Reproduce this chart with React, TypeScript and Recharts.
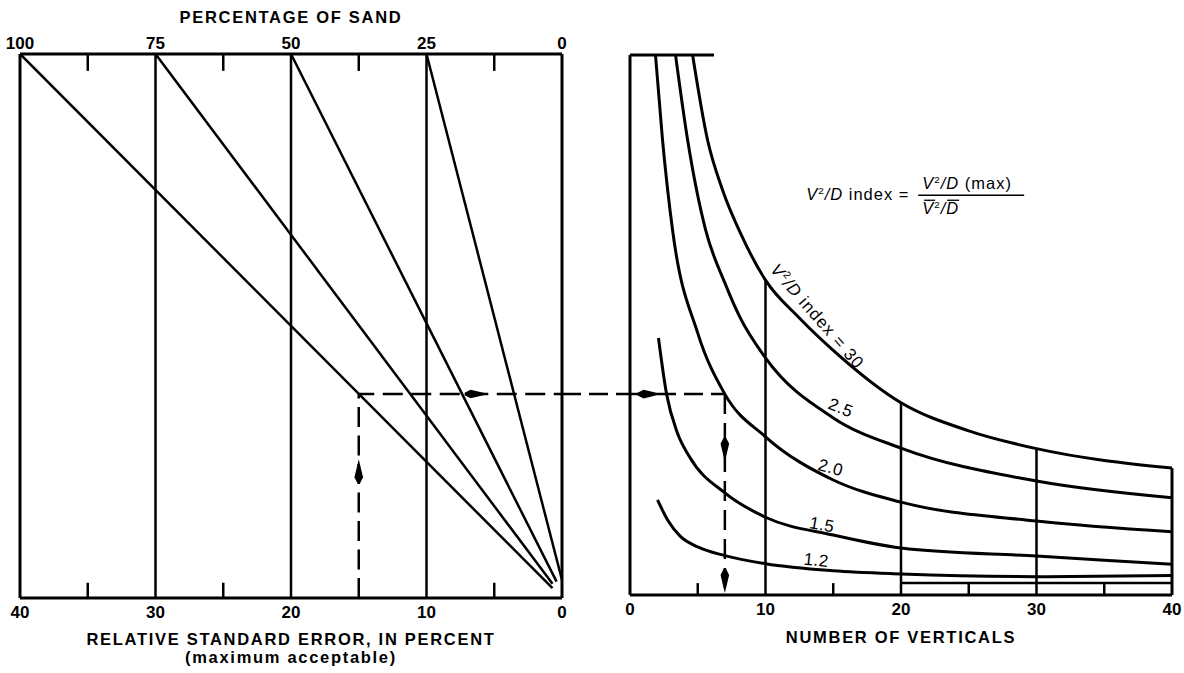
import React from "react";
import {
  ComposedChart,
  Line,
  XAxis,
  YAxis,
  ReferenceLine,
  ReferenceDot,
  Label,
} from "recharts";

const FONT = "'Liberation Sans', Arial, Helvetica, sans-serif";
const INK = "#000";

// ---- left panel: relative standard error (bottom) vs percentage of sand (top)
const errorTicks = [0, 10, 20, 30, 40];
const errorMinorTicks = [5, 25, 35];
const errorGridLines = [30, 20, 10];
const sandTicks = [0, 25, 50, 75, 100];
const sandMinorTicks = [12.5, 37.5, 62.5, 87.5];
const sandLines = [100, 75, 50, 25];
// every sand line runs down into the lower right corner (in sand units)
const sandLineEnd = [1.75, 1.75, 1.0, 0];
const sandLineEndLevel = [1.8, 2.6, 3.0, 3.3];

// worked example: 15 % error, 100 % sand -> 7 verticals on the 2.0 curve
const exampleError = 15;
const exampleLevelLeft = 37.5;
const exampleLevelRight = 37.2;
const exampleVerticals = 7;
const gapEndError = -5.0; // dashed line carries on across the gap

// arrow heads along the example path (x, level, direction in degrees)
const leftArrowX = [15, 6.3];
const leftArrowY = [23.3, 37.5];
const leftArrowDir = [-90, 0];
const rightArrowX = [1.45, 7, 7];
const rightArrowY = [37.2, 26.9, 2.6];
const rightArrowDir = [0, 90, 90];

// ---- right panel: number of verticals for each V2/D index
const verticalTicks = [0, 10, 20, 30, 40];
const verticalMinorTicks = [5, 15, 25, 35];
const verticalMinorTickTop = [2.2, 2.2, 2.2, 2.2];
const gridVerticals = [10, 20, 30, 40];
const gridVerticalTop = [58.3, 35.6, 27.1, 23.5];
const topLineEnd = 6.2;
const stripLevel = 2.2;
const stripFrom = 20;

const curve30 = [[4.62, 100], [5.72, 84.3], [6.83, 75.0], [8.23, 66.6], [10, 58.3], [12.5, 51.3], [15, 45.3], [20, 35.6], [25, 30.4], [30, 27.1], [40, 23.5]];
const curve25 = [[3.36, 100], [4.25, 84.3], [5.58, 67.6], [7, 57.8], [8.1, 51.5], [10, 43.9], [15, 32.8], [20, 27.2], [30, 21.1], [40, 18.0]];
const curve20 = [[1.88, 100], [2.4, 84.3], [3.14, 67.6], [5, 48.5], [7, 37.2], [10, 29.3], [15, 21.3], [20, 17.2], [30, 13.7], [40, 11.7]];
const curve15 = [[2.1, 47.6], [2.7, 37.2], [3.5, 30.0], [4.39, 25.6], [7, 18.9], [10, 14.4], [15, 11.1], [20, 8.7], [30, 7.2], [40, 5.7]];
const curve12 = [[2.03, 17.6], [2.8, 13.8], [3.7, 10.9], [5, 8.9], [7, 7.3], [10, 5.8], [15, 4.5], [20, 3.9], [30, 3.4], [40, 3.6]];
const curves = [curve30, curve25, curve20, curve15, curve12];

// where the index values are written along the curves
const indexLabels = ["30", "2.5", "2.0", "1.5", "1.2"];
const indexLabelX = [13.5, 15.4, 14.7, 14.1, 13.7];
const indexLabelY = [50.9, 33.7, 22.6, 12.0, 5.4];
const indexLabelAngle = [49, 22, 15, 10, 6];

const toPoints = (pairs: number[][]) => pairs.map(([x, y]) => ({ x, y }));

const tickStyle = { fill: INK, fontSize: 17, fontWeight: 700, fontFamily: FONT };
const titleStyle = {
  fill: INK,
  fontSize: 16.5,
  fontWeight: 700,
  fontFamily: FONT,
  letterSpacing: 1.7,
};
const frame = { stroke: INK, strokeWidth: 3 };
const thin = { stroke: INK, strokeWidth: 2.5 };
const dashed = { stroke: INK, strokeWidth: 2.5, strokeDasharray: "19 8" };

const arrowHead = (dir: number) => (p: any) => (
  <polygon
    points="-12,-1.3 -6,-4.3 12,0 -6,4.3 -12,1.3"
    transform={`translate(${p.cx},${p.cy}) rotate(${dir})`}
    fill={INK}
  />
);

const v2d = (fs: number) => [
  <tspan key="v" fontStyle="italic">V</tspan>,
  <tspan key="2" fontSize={fs * 0.6} dy={-fs * 0.4}>2</tspan>,
  <tspan key="d" fontStyle="italic" dy={fs * 0.4}>/D</tspan>,
];

const curveLabel = (i: number) => (p: any) => (
  <text
    x={p.cx}
    y={p.cy}
    transform={`rotate(${indexLabelAngle[i]} ${p.cx} ${p.cy})`}
    textAnchor="middle"
    fontFamily={FONT}
    fontSize={17}
    letterSpacing={i === 0 ? 1 : 0.5}
    fill={INK}
  >
    {i === 0 ? v2d(17) : null}
    {i === 0 ? " index = " + indexLabels[i] : indexLabels[i]}
  </text>
);

const formula = (p: any) => {
  const { cx, cy } = p;
  return (
    <g fontFamily={FONT} fontSize={16.5} fill={INK} letterSpacing={1}>
      <text x={cx} y={cy}>
        {v2d(16.5)}
        {" index ="}
      </text>
      <text x={cx + 116} y={cy - 11}>
        {v2d(16.5)}
        {" (max)"}
      </text>
      <line x1={cx + 112} x2={cx + 218} y1={cy - 5} y2={cy - 5} stroke={INK} strokeWidth={1.5} />
      <text x={cx + 116} y={cy + 14}>{v2d(16.5)}</text>
      <line x1={cx + 118} x2={cx + 129} y1={cy} y2={cy} stroke={INK} strokeWidth={1.3} />
      <line x1={cx + 141} x2={cx + 153} y1={cy} y2={cy} stroke={INK} strokeWidth={1.3} />
    </g>
  );
};

function LeftPanel() {
  return (
    <ComposedChart width={640} height={673} margin={{ top: 0, right: 78, bottom: 0, left: 20 }}>
      <XAxis
        xAxisId="sand"
        dataKey="x"
        orientation="top"
        type="number"
        domain={[0, 100]}
        allowDataOverflow
        reversed
        ticks={sandTicks}
        interval={0}
        height={54}
        tickLine={false}
        tickSize={2}
        tickMargin={3}
        axisLine={frame}
        tick={tickStyle}
      >
        <Label value="PERCENTAGE OF SAND" position="insideTop" offset={11} {...titleStyle} />
      </XAxis>
      <XAxis
        xAxisId="err"
        dataKey="x"
        type="number"
        domain={[0, 40]}
        allowDataOverflow
        reversed
        ticks={errorTicks}
        interval={0}
        height={75}
        tickLine={false}
        axisLine={frame}
        tick={tickStyle}
      >
        <Label value="RELATIVE STANDARD ERROR, IN PERCENT" position="insideBottom" offset={28} {...titleStyle} />
        <Label value="(maximum acceptable)" position="insideBottom" offset={10} {...titleStyle} />
      </XAxis>
      <YAxis type="number" domain={[0, 100]} hide />

      <ReferenceLine xAxisId="err" x={40} {...frame} />
      <ReferenceLine xAxisId="err" x={0} {...frame} />
      {errorGridLines.map((e) => (
        <ReferenceLine key={e} xAxisId="err" x={e} {...thin} />
      ))}
      {sandMinorTicks.map((s) => (
        <ReferenceLine
          key={s}
          xAxisId="sand"
          segment={[{ x: s, y: 100 }, { x: s, y: 96.9 }]}
          {...thin}
        />
      ))}
      {errorMinorTicks.map((e) => (
        <ReferenceLine key={e} xAxisId="err" segment={[{ x: e, y: 0 }, { x: e, y: 2.8 }]} {...thin} />
      ))}

      {sandLines.map((s, i) => (
        <Line
          key={s}
          xAxisId="sand"
          data={[
            { x: s, y: 100 },
            { x: sandLineEnd[i], y: sandLineEndLevel[i] },
          ]}
          dataKey="y"
          type="linear"
          dot={false}
          stroke={INK}
          strokeWidth={2.5}
          isAnimationActive={false}
        />
      ))}

      <Line
        xAxisId="err"
        data={[
          { x: exampleError, y: 0 },
          { x: exampleError, y: exampleLevelLeft },
          { x: 0, y: exampleLevelLeft },
        ]}
        dataKey="y"
        type="linear"
        dot={false}
        stroke={INK}
        strokeWidth={2.5}
        strokeDasharray="20 8.5"
        isAnimationActive={false}
      />
      <ReferenceLine
        xAxisId="err"
        ifOverflow="visible"
        segment={[{ x: 0, y: exampleLevelLeft }, { x: gapEndError, y: exampleLevelLeft }]}
        {...dashed}
      />
      {leftArrowX.map((x, i) => (
        <ReferenceDot key={i} xAxisId="err" x={x} y={leftArrowY[i]} r={1} shape={arrowHead(leftArrowDir[i])} />
      ))}
    </ComposedChart>
  );
}

function RightPanel() {
  return (
    <ComposedChart width={624} height={673} margin={{ top: 55, right: 12, bottom: 0, left: 70 }}>
      <XAxis
        xAxisId="v"
        dataKey="x"
        type="number"
        domain={[0, 40]}
        ticks={verticalTicks}
        interval={0}
        height={78}
        tickLine={false}
        axisLine={frame}
        tick={tickStyle}
      >
        <Label value="NUMBER OF VERTICALS" position="insideBottom" offset={30} {...titleStyle} />
      </XAxis>
      <YAxis type="number" domain={[0, 100]} hide />

      <ReferenceLine xAxisId="v" x={0} {...frame} />
      <ReferenceLine xAxisId="v" segment={[{ x: 0, y: 100 }, { x: topLineEnd, y: 100 }]} {...frame} />
      {gridVerticals.map((v, i) => (
        <ReferenceLine
          key={v}
          xAxisId="v"
          segment={[{ x: v, y: 0 }, { x: v, y: gridVerticalTop[i] }]}
          {...(v === 40 ? frame : thin)}
        />
      ))}
      {verticalMinorTicks.map((v, i) => (
        <ReferenceLine
          key={v}
          xAxisId="v"
          segment={[{ x: v, y: 0 }, { x: v, y: verticalMinorTickTop[i] }]}
          {...thin}
        />
      ))}
      <ReferenceLine
        xAxisId="v"
        segment={[{ x: stripFrom, y: stripLevel }, { x: 40, y: stripLevel }]}
        {...thin}
      />

      {curves.map((c, i) => (
        <Line
          key={indexLabels[i]}
          xAxisId="v"
          data={toPoints(c)}
          dataKey="y"
          type="monotone"
          dot={false}
          stroke={INK}
          strokeWidth={3}
          isAnimationActive={false}
        />
      ))}

      <ReferenceLine
        xAxisId="v"
        segment={[{ x: 0, y: exampleLevelRight }, { x: exampleVerticals, y: exampleLevelRight }]}
        {...dashed}
      />
      <ReferenceLine
        xAxisId="v"
        segment={[{ x: exampleVerticals, y: exampleLevelRight }, { x: exampleVerticals, y: 0 }]}
        {...dashed}
        strokeDasharray="20 9"
      />
      {rightArrowX.map((x, i) => (
        <ReferenceDot key={i} xAxisId="v" x={x} y={rightArrowY[i]} r={1} shape={arrowHead(rightArrowDir[i])} />
      ))}

      {indexLabels.map((_, i) => (
        <ReferenceDot key={i} xAxisId="v" x={indexLabelX[i]} y={indexLabelY[i]} r={1} shape={curveLabel(i)} />
      ))}
      <ReferenceDot xAxisId="v" x={13.0} y={73.1} r={1} shape={formula} />
    </ComposedChart>
  );
}

export default function App() {
  return (
    <div
      style={{
        position: "absolute",
        left: 0,
        top: 0,
        width: 1184,
        height: 673,
        background: "#fff",
        overflow: "hidden",
      }}
    >
      <div style={{ position: "absolute", left: 0, top: 0 }}>
        <LeftPanel />
      </div>
      <div style={{ position: "absolute", left: 560, top: 0 }}>
        <RightPanel />
      </div>
    </div>
  );
}
